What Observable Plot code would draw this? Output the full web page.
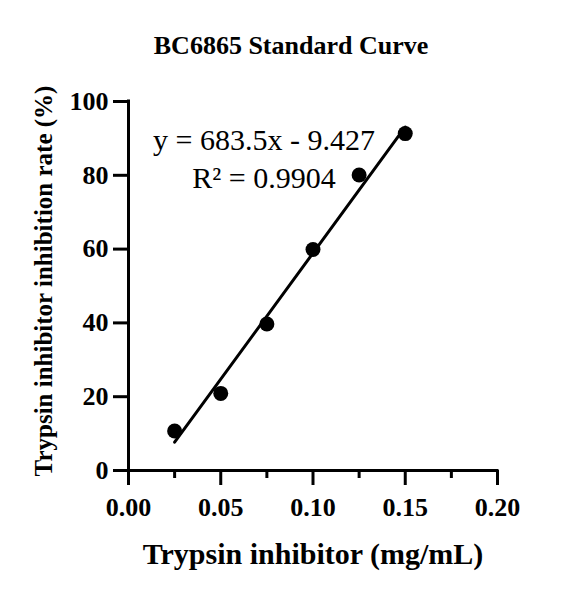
<!DOCTYPE html>
<html>
<head>
<meta charset="utf-8">
<script src="https://cdn.jsdelivr.net/npm/d3@7"></script>
<script src="https://cdn.jsdelivr.net/npm/@observablehq/plot@0.6"></script>
<style>
  html, body { margin: 0; padding: 0; background: #fff; }
  #chart svg { display: block; }
</style>
</head>
<body>
<div id="chart"></div>
<script>
// Data
const concentrations = [0.025, 0.05, 0.075, 0.1, 0.125, 0.15];
const inhibitionRates = [10.7, 20.9, 39.7, 59.9, 80.1, 91.3];
const fitSlope = 683.5;
const fitIntercept = -9.427;
const fitR2 = 0.9904;
const xMajorTicks = [0, 0.05, 0.1, 0.15, 0.2];
const xMinorTicks = [0.025, 0.075, 0.125, 0.175];
const yTicks = [0, 20, 40, 60, 80, 100];
const titleText = "BC6865 Standard Curve";
const xLabel = "Trypsin inhibitor (mg/mL)";
const yLabel = "Trypsin inhibitor inhibition rate (%)";

const points = concentrations.map((c, i) => ({x: c, y: inhibitionRates[i]}));
const xExt = d3.extent(concentrations);
const fitLine = xExt.map(x => ({x, y: fitSlope * x + fitIntercept}));
const eqText = `y = ${fitSlope}x - ${Math.abs(fitIntercept)}`;
const r2Text = `R² = ${fitR2}`;

const FONT = '"Liberation Serif", "Times New Roman", Times, serif';

const chart = Plot.plot({
  width: 584,
  height: 595,
  marginLeft: 128,
  marginRight: 87,
  marginTop: 101,
  marginBottom: 125,
  style: {fontFamily: FONT, background: "#fff", color: "#000", overflow: "visible"},
  x: {domain: [0, 0.2], axis: null},
  y: {domain: [0, 100], axis: null},
  marks: [
    // y ticks and labels
    Plot.ruleY(yTicks, {y: d => d, x1: 0, x2: 0, insetLeft: -15, stroke: "#000", strokeWidth: 3}),
    Plot.text(yTicks, {y: d => d, frameAnchor: "left", dx: -20, textAnchor: "end", lineAnchor: "middle", text: d => String(d), fontSize: 26, fontWeight: "bold", fill: "#000"}),
    // x ticks and labels
    Plot.ruleX(xMajorTicks, {x: d => d, y1: 0, y2: 0, insetBottom: -15, stroke: "#000", strokeWidth: 3}),
    Plot.ruleX(xMinorTicks, {x: d => d, y1: 0, y2: 0, insetBottom: -8, stroke: "#000", strokeWidth: 3}),
    Plot.text(xMajorTicks, {x: d => d, frameAnchor: "bottom", dy: 27, lineAnchor: "top", text: d => d.toFixed(2), fontSize: 26, fontWeight: "bold", fill: "#000"}),
    // axis lines
    Plot.ruleY([0], {stroke: "#000", strokeWidth: 3, strokeLinecap: "square"}),
    Plot.ruleX([0], {stroke: "#000", strokeWidth: 3, strokeLinecap: "square"}),
    // data
    Plot.line(fitLine, {x: "x", y: "y", stroke: "#000", strokeWidth: 3}),
    Plot.dot(points, {x: "x", y: "y", r: 7.5, fill: "#000", stroke: "none"}),
    // annotations
    Plot.text([eqText], {frameAnchor: "top", dx: -49, dy: 48, lineAnchor: "bottom", fontSize: 30, fill: "#000"}),
    Plot.text([r2Text], {frameAnchor: "top", dx: -49, dy: 86, lineAnchor: "bottom", fontSize: 30, fill: "#000"}),
    Plot.text([titleText], {frameAnchor: "top", dx: -22, dy: -48, lineAnchor: "bottom", fontSize: 26, fontWeight: "bold", fill: "#000"}),
    Plot.text([yLabel], {frameAnchor: "left", dx: -85, dy: -5, rotate: -90, textAnchor: "middle", lineAnchor: "middle", fontSize: 25, fontWeight: "bold", fill: "#000"}),
    Plot.text([xLabel], {frameAnchor: "bottom", dy: 93, lineAnchor: "bottom", fontSize: 30, fontWeight: "bold", fill: "#000"})
  ]
});
document.getElementById("chart").appendChild(chart);
</script>
</body>
</html>
